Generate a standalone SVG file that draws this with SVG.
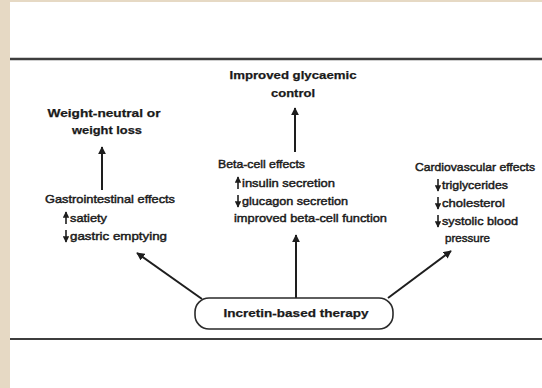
<svg xmlns="http://www.w3.org/2000/svg" width="542" height="388" viewBox="0 0 542 388">
<defs>
<marker id="ah" viewBox="0 0 10 10" refX="9" refY="5" markerWidth="4.2" markerHeight="4" orient="auto" markerUnits="strokeWidth">
<path d="M0,0 L10,5 L0,10 Z" fill="#1e1e1e"/>
</marker>
<marker id="sah" viewBox="0 0 10 10" refX="9" refY="5" markerWidth="4" markerHeight="4" orient="auto" markerUnits="strokeWidth">
<path d="M0,0 L10,5 L0,10 Z" fill="#1e1e1e"/>
</marker>
</defs>
<style>
text{font-family:"Liberation Sans",Arial,sans-serif;font-size:11.5px;fill:#1a1a1a;stroke:#1a1a1a;stroke-width:0.45}
.h{font-weight:bold;stroke-width:0.25}
.m{text-anchor:middle}
.arr{stroke:#1e1e1e;stroke-width:2;fill:none;marker-end:url(#ah)}
.sa{stroke:#1e1e1e;stroke-width:1.6;fill:none;marker-end:url(#sah)}
.rule{stroke:#3e3e3e;fill:none}
</style>
<rect x="0" y="0" width="542" height="388" fill="#ffffff"/>
<rect x="0" y="0" width="10" height="388" fill="#e6d9c4"/>
<rect x="0" y="0" width="542" height="2" fill="#e6d9c4"/>
<line class="rule" x1="10" y1="59" x2="542" y2="59" stroke-width="2.4"/>
<line class="rule" x1="10" y1="339" x2="542" y2="339" stroke-width="1.8"/>

<g id="connectors">
<line class="arr" x1="295" y1="152" x2="295" y2="108"/>
<line class="arr" x1="102" y1="190" x2="102" y2="147"/>
<line class="arr" x1="296" y1="298" x2="296" y2="235"/>
<line class="arr" x1="202" y1="299" x2="137" y2="253"/>
<line class="arr" x1="388" y1="298" x2="451" y2="251"/>
</g>

<g id="glycaemic">
<text class="h m" x="293" y="79" textLength="127" lengthAdjust="spacingAndGlyphs">Improved glycaemic</text>
<text class="h m" x="293" y="97" textLength="44" lengthAdjust="spacingAndGlyphs">control</text>
</g>

<g id="weight">
<text class="h m" x="104" y="117" textLength="113" lengthAdjust="spacingAndGlyphs">Weight-neutral or</text>
<text class="h m" x="107" y="134" textLength="70" lengthAdjust="spacingAndGlyphs">weight loss</text>
</g>

<g id="gastro">
<text x="45" y="203" textLength="130" lengthAdjust="spacingAndGlyphs">Gastrointestinal effects</text>
<line class="sa" x1="66" y1="224" x2="66" y2="212"/>
<text x="70" y="222" textLength="37" lengthAdjust="spacingAndGlyphs">satiety</text>
<line class="sa" x1="66" y1="230" x2="66" y2="242"/>
<text x="70" y="240" textLength="97" lengthAdjust="spacingAndGlyphs">gastric emptying</text>
</g>

<g id="betacell">
<text x="218" y="168" textLength="87" lengthAdjust="spacingAndGlyphs">Beta-cell effects</text>
<line class="sa" x1="238" y1="189" x2="238" y2="177"/>
<text x="242" y="187" textLength="93" lengthAdjust="spacingAndGlyphs">insulin secretion</text>
<line class="sa" x1="238" y1="195" x2="238" y2="207"/>
<text x="242" y="205" textLength="106" lengthAdjust="spacingAndGlyphs">glucagon secretion</text>
<text x="234" y="222" textLength="153" lengthAdjust="spacingAndGlyphs">improved beta-cell function</text>
</g>

<g id="cardio">
<text x="415" y="171" textLength="120" lengthAdjust="spacingAndGlyphs">Cardiovascular effects</text>
<line class="sa" x1="438" y1="179" x2="438" y2="191"/>
<text x="442" y="189" textLength="66" lengthAdjust="spacingAndGlyphs">triglycerides</text>
<line class="sa" x1="438" y1="197" x2="438" y2="209"/>
<text x="442" y="207" textLength="63" lengthAdjust="spacingAndGlyphs">cholesterol</text>
<line class="sa" x1="438" y1="215" x2="438" y2="227"/>
<text x="442" y="225" textLength="76" lengthAdjust="spacingAndGlyphs">systolic blood</text>
<text x="445" y="242" textLength="45" lengthAdjust="spacingAndGlyphs">pressure</text>
</g>

<g id="therapy">
<rect x="195" y="298" width="198" height="31" rx="14" ry="14" fill="#ffffff" stroke="#2a2a2a" stroke-width="1.6"/>
<text class="h m" x="296" y="317" textLength="145" lengthAdjust="spacingAndGlyphs">Incretin-based therapy</text>
</g>
</svg>
